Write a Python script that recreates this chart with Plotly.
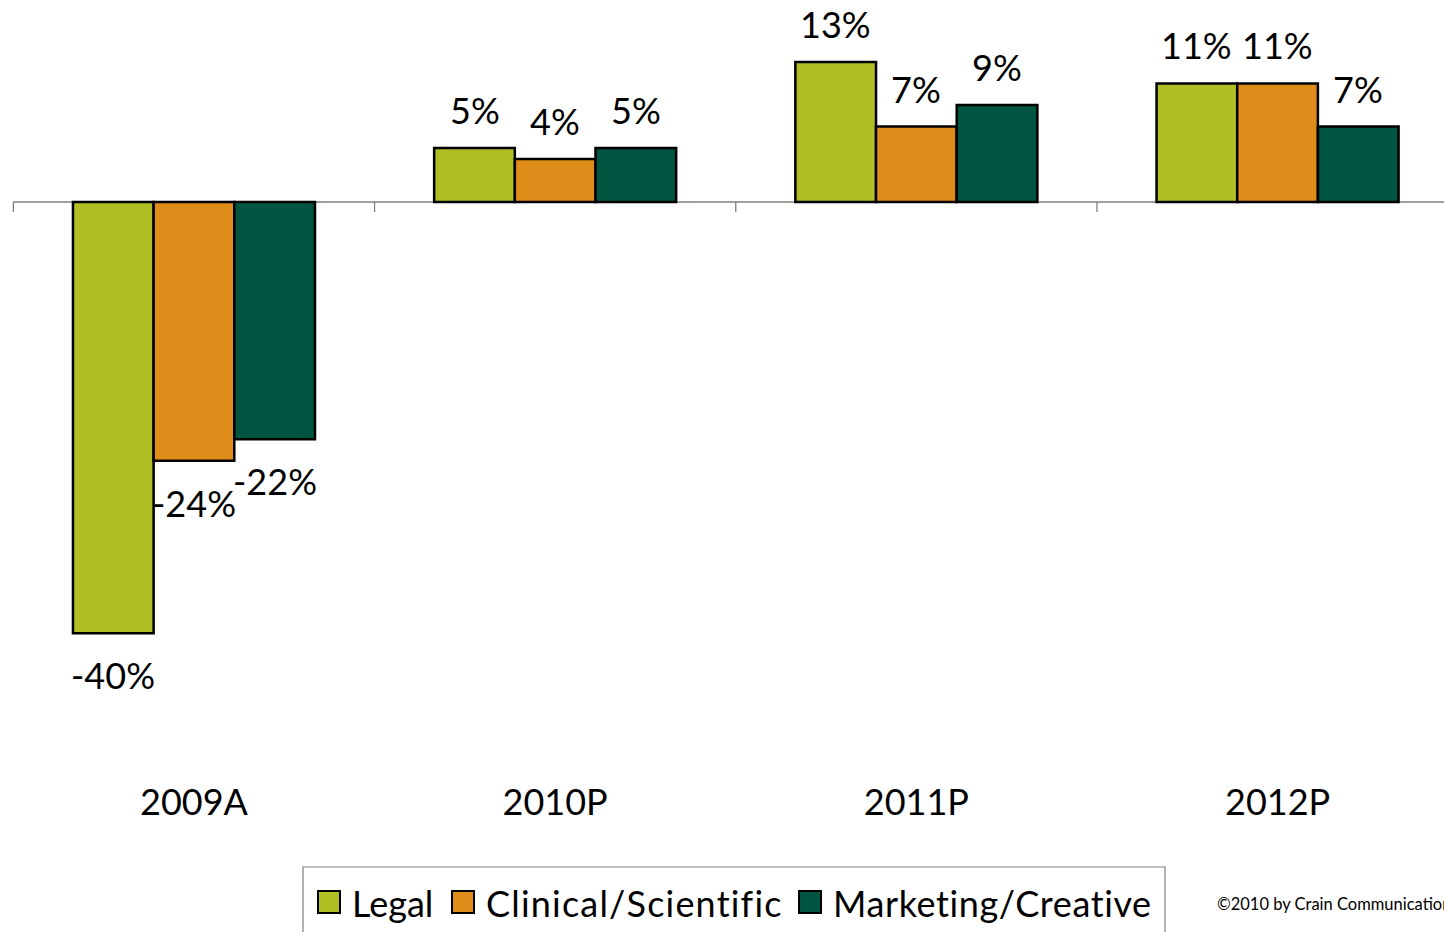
import plotly.graph_objects as go

# ---- data -------------------------------------------------------------
categories = ["2009A", "2010P", "2011P", "2012P"]
series_names = ["Legal", "Clinical/Scientific", "Marketing/Creative"]
legal = [-40, 5, 13, 11]
clinical = [-24, 4, 7, 11]
marketing = [-22, 5, 9, 7]
series_values = [legal, clinical, marketing]
colors = ["#B0BF24", "#DE8C1A", "#005540"]
credit = "©2010 by Crain Communications Inc."

# ---- layout geometry ----------------------------------------------------
W, H = 1444, 932
PLOT_BOTTOM = 778            # pixel row where the plot area ends
FONT = "Lato, Carlito, Calibri, sans-serif"
BAR_GAP = 0.33
X_RANGE = [-0.537, -0.537 + W / 361.2]
Y_RANGE = [18.74 - PLOT_BOTTOM / 10.78, 18.74]


def paper_x(px):
    return px / W


def paper_y(py):
    return (PLOT_BOTTOM - py) / PLOT_BOTTOM


fig = go.Figure()

for name, vals, col in zip(series_names, series_values, colors):
    fig.add_trace(go.Bar(
        x=categories, y=vals, name=name,
        marker=dict(color=col, line=dict(color="#000000", width=2.5)),
        showlegend=False,
    ))

# value labels above / below each bar
bar_w = (1 - BAR_GAP) / len(series_names)
annotations = []
for j, vals in enumerate(series_values):
    offset = (j - (len(series_names) - 1) / 2) * bar_w
    for i, v in enumerate(vals):
        annotations.append(dict(
            x=i + offset, y=v, xref="x", yref="y",
            text=f"{v}%", showarrow=False,
            xanchor="center", yanchor="middle",
            yshift=38 if v >= 0 else -42,
            font=dict(family=FONT, size=36, color="#000000"),
        ))

# legend box drawn below the chart
shapes = [dict(
    type="rect", xref="paper", yref="paper",
    x0=paper_x(303), x1=paper_x(1165), y0=paper_y(945), y1=paper_y(867),
    line=dict(color="#808080", width=1.2), fillcolor="rgba(0,0,0,0)",
)]
legend_sq_x = [318, 452, 799]
legend_tx_x = [350, 484, 831]
legend_spacing = [0.0, 1.2, 0.6]
for name, col, sx, tx, sp in zip(series_names, colors, legend_sq_x,
                                 legend_tx_x, legend_spacing):
    shapes.append(dict(
        type="rect", xref="paper", yref="paper",
        x0=paper_x(sx), x1=paper_x(sx + 22), y0=paper_y(913), y1=paper_y(891),
        line=dict(color="#000000", width=2), fillcolor=col,
    ))
    annotations.append(dict(
        x=paper_x(tx), y=paper_y(903), xref="paper", yref="paper",
        text=f'<span style="letter-spacing:{sp}px">{name}</span>',
        showarrow=False, xanchor="left", yanchor="middle",
        font=dict(family=FONT, size=36, color="#000000"),
    ))

annotations.append(dict(
    x=paper_x(1215), y=paper_y(904), xref="paper", yref="paper",
    text=credit, showarrow=False, xanchor="left", yanchor="middle",
    font=dict(family=FONT, size=16.5, color="#000000"),
))

# category axis line at zero with boundary tick marks
shapes.append(dict(
    type="line", xref="x", yref="y", x0=-0.5, x1=3.5, y0=0, y1=0,
    line=dict(color="#808080", width=1.3), layer="below",
))
for k in range(len(categories)):
    shapes.append(dict(
        type="line", xref="x", yref="y", ysizemode="pixel", yanchor=0,
        x0=k - 0.5, x1=k - 0.5, y0=0, y1=-10,
        line=dict(color="#808080", width=1.3), layer="below",
    ))

fig.update_layout(
    width=W, height=H,
    margin=dict(l=0, r=0, t=0, b=H - PLOT_BOTTOM),
    paper_bgcolor="#ffffff", plot_bgcolor="#ffffff",
    barmode="group", bargap=BAR_GAP, bargroupgap=0,
    font=dict(family=FONT, size=36, color="#000000"),
    xaxis=dict(type="category", range=X_RANGE, showgrid=False, zeroline=False,
               showline=False, ticks="", tickfont=dict(size=36)),
    yaxis=dict(range=Y_RANGE, visible=False),
    shapes=shapes, annotations=annotations,
    showlegend=False,
)

fig.write_html("out.html")
